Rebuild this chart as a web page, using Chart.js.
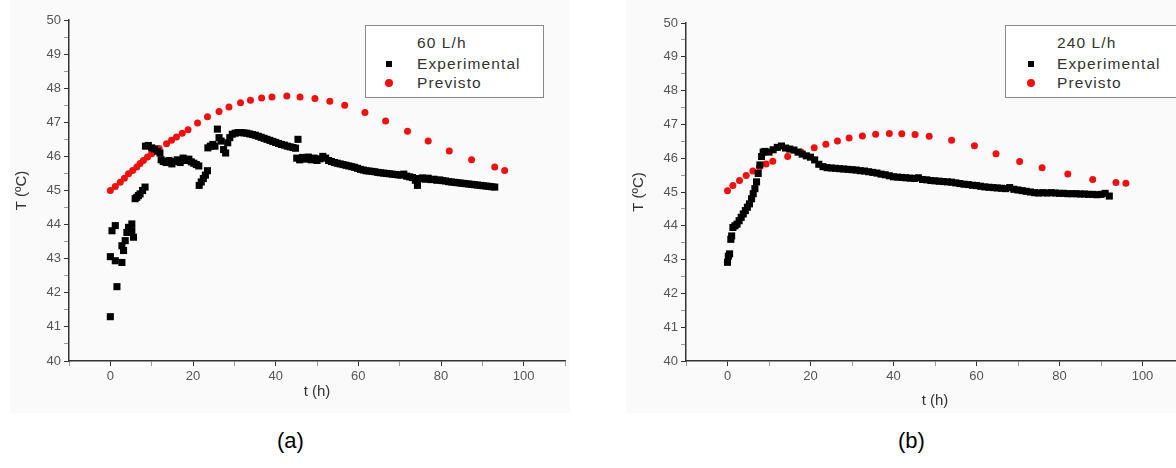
<!DOCTYPE html>
<html>
<head>
<meta charset="utf-8">
<script src="https://cdn.jsdelivr.net/npm/chart.js@4.4.0/dist/chart.umd.min.js"></script>
<style>
  body { margin: 0; width: 1176px; height: 468px; overflow: hidden; background: #fff; position: relative;
         font-family: "Liberation Sans", Arial, sans-serif; }
  .panel { position: absolute; top: 0; height: 413px; background: #fafafa; }
  .chart { position: absolute; top: 0; }
  .legend { position: absolute; top: 25px; height: 71px; border: 1px solid #888; background: #fff;
            font-size: 15.5px; letter-spacing: 1.1px; color: #333; }
  .legend span { position: absolute; line-height: 18px; white-space: nowrap; }
  .mk { position: absolute; }
  .sq { width: 6px; height: 6px; background: #000; }
  .dot { width: 8px; height: 8px; border-radius: 50%; background: #f01010; }
  .cap { position: absolute; top: 428px; font-size: 22px; color: #000; }
</style>
</head>
<body>
<div class="panel" style="left:10px; width:560px"></div>
<div class="panel" style="left:626px; width:550px"></div>

<canvas id="chartA" class="chart" width="600" height="420" style="left:0px"></canvas>
<canvas id="chartB" class="chart" width="602" height="420" style="left:617px"></canvas>

<div class="legend" style="left:365px; width:177px">
  <span style="left:51px; top:8px">60 L/h</span>
  <div class="mk sq" style="left:20px; top:35px"></div><span style="left:51px; top:29px">Experimental</span>
  <div class="mk dot" style="left:19px; top:53px"></div><span style="left:51px; top:48px">Previsto</span>
</div>
<div class="legend" style="left:1005px; width:200px">
  <span style="left:51px; top:8px">240 L/h</span>
  <div class="mk sq" style="left:22px; top:35px"></div><span style="left:51px; top:29px">Experimental</span>
  <div class="mk dot" style="left:21px; top:53px"></div><span style="left:51px; top:48px">Previsto</span>
</div>

<div class="cap" style="left:277px">(a)</div>
<div class="cap" style="left:898px">(b)</div>

<script>
// axis labels
const xLabels = [0, 20, 40, 60, 80, 100];
const yLabels = [40, 41, 42, 43, 44, 45, 46, 47, 48, 49, 50];

// (a) 60 L/h - experimental
const expTimeA = [
  0, 0, 0.4, 1.2, 1.2, 1.6, 2.8, 2.8, 3.2, 3.6, 4, 4.4, 5.2, 5.2, 5.6, 6, 6.4, 6.8, 7.2, 7.8, 8.4,
  8.5, 9.2, 10, 10.7, 11.4, 12, 12.3, 12.8, 13.5, 14.2, 14.9, 15.5, 16.2, 16.9, 17.6, 18.3, 19, 19.6, 20.2, 20.8, 21.4,
  21.5, 22, 22.5, 23, 23.5,
  23.6, 24.2, 24.8, 25.3, 25.9, 26.3, 26.8, 27.4, 27.9, 28.4, 28.9, 29.5, 30.2, 30.9, 31.6, 32.3, 33, 33.7, 34.4, 35.1,
  35.8, 36.5, 37.2, 37.9, 38.6, 39.3, 40, 40.7, 41.4, 42.1, 42.8, 43.5, 44.2, 44.8, 45.4,
  45.1, 45.8, 46.5, 47.2, 47.9, 48.6, 49.3, 50, 50.7, 51.4, 52.1, 52.8, 53.5, 54.2, 54.9, 55.6, 56.3, 57, 57.7, 58.4,
  59.1, 59.8, 60.5, 61.2, 61.9, 62.6, 63.3, 64, 64.7, 65.4, 66.1, 66.8, 67.5, 68.2, 68.9, 69.6, 70.3, 71, 71.7, 72.4,
  73.1, 73.8, 74.3, 74.8, 75.5, 76.2, 76.9, 77.6, 78.3, 79, 79.7, 80.4, 81.1, 81.8, 82.5, 83.2, 83.9, 84.6, 85.3, 86,
  86.7, 87.4, 88.1, 88.8, 89.5, 90.2, 90.9, 91.6, 92.3, 93
];
const expTempA = [
  41.3, 43.06, 43.82, 43.97, 42.94, 42.18, 42.89, 43.38, 43.24, 43.53, 43.77, 43.92, 44.02, 43.82, 43.63, 44.76, 44.8, 44.85, 44.9, 45.0, 45.1,
  46.3, 46.32, 46.25, 46.22, 46.15, 46.1, 45.9, 45.85, 45.82, 45.88, 45.78, 45.85, 45.9, 45.82, 45.95, 45.88, 45.92, 45.84, 45.8, 45.76, 45.72,
  45.15, 45.25, 45.35, 45.45, 45.58,
  46.25, 46.3, 46.35, 46.3, 46.8, 46.55, 46.45, 46.2, 46.1, 46.4, 46.55, 46.65, 46.68, 46.7, 46.7, 46.69, 46.68, 46.66, 46.64, 46.62,
  46.59, 46.56, 46.53, 46.5, 46.47, 46.44, 46.41, 46.38, 46.35, 46.33, 46.3, 46.28, 46.26, 46.24, 46.5,
  45.95, 45.9, 45.97, 45.92, 45.98, 45.9, 45.95, 45.88, 45.93, 46.0, 45.95, 45.88, 45.85, 45.82, 45.8, 45.78, 45.76, 45.74, 45.72, 45.7,
  45.68, 45.65, 45.62, 45.6, 45.58, 45.57, 45.56, 45.55, 45.53, 45.52, 45.51, 45.5, 45.49, 45.48, 45.47, 45.46, 45.45, 45.48, 45.42, 45.4,
  45.38, 45.3, 45.15, 45.35, 45.37, 45.33, 45.36, 45.32, 45.33, 45.3, 45.31, 45.29, 45.28, 45.26, 45.25, 45.24, 45.23, 45.22, 45.21, 45.2,
  45.19, 45.18, 45.17, 45.16, 45.15, 45.14, 45.13, 45.12, 45.11, 45.1
];

// (a) 60 L/h - predicted
const prevTimeA = [0, 1.2, 2.4, 3.4, 4.4, 5.4, 6.4, 7.2, 8.0, 9.0, 10.0, 11.8, 13.6, 14.8, 16.0, 17.4, 18.8, 21.1, 23.5, 26.3,
  28.7, 31.5, 33.9, 36.6, 39.1, 42.7, 45.9, 49.5, 53.1, 56.7, 61.6, 66.6, 71.9, 76.9, 82, 87.4, 93, 95.4];
const prevTempA = [45.0, 45.12, 45.24, 45.36, 45.49, 45.59, 45.69, 45.79, 45.88, 45.98, 46.08, 46.23, 46.37, 46.47, 46.57, 46.68, 46.78, 46.98, 47.16, 47.32,
  47.45, 47.57, 47.65, 47.71, 47.74, 47.77, 47.74, 47.7, 47.62, 47.5, 47.29, 47.04, 46.74, 46.45, 46.16, 45.9, 45.69, 45.59];

// (b) 240 L/h - experimental
const expTimeB = [
  0, 0.2, 0.5, 0.8, 1.0, 1.3, 1.8, 2.3, 2.8, 3.3, 3.8, 4.3, 4.8, 5.3, 5.8, 6.2, 6.6, 7.0, 7.4, 7.8, 8.2, 8.6,
  9, 10, 11, 12, 13, 14, 15, 16, 17, 18, 19, 20, 21, 22, 23, 24, 25, 26, 27, 28, 29, 30,
  31, 32, 33, 34, 35, 36, 37, 38, 39, 40, 41, 42, 43, 44, 45, 46, 47, 48, 49, 50,
  51, 52, 53, 54, 55, 56, 57, 58, 59, 60, 61, 62, 63, 64, 65, 66, 67, 68, 69, 70,
  71, 72, 73, 74, 75, 76, 77, 78, 79, 80, 81, 82, 83, 84, 85, 86, 87, 88, 89, 90, 91, 92
];
const expTempB = [
  42.92, 43.1, 43.17, 43.6, 43.7, 43.95, 44.0, 44.05, 44.15, 44.25, 44.35, 44.45, 44.55, 44.65, 44.8, 44.95, 45.1, 45.3, 45.55, 45.8, 46.05, 46.18,
  46.2, 46.18, 46.25, 46.32, 46.36, 46.3, 46.27, 46.24, 46.18, 46.12, 46.07, 46.03, 45.95, 45.82, 45.75, 45.72, 45.71, 45.7, 45.69, 45.68, 45.67, 45.66,
  45.65, 45.63, 45.62, 45.6, 45.58, 45.56, 45.53, 45.51, 45.48, 45.45, 45.44, 45.43, 45.42, 45.41, 45.4, 45.42, 45.37, 45.36, 45.34, 45.33,
  45.32, 45.31, 45.3, 45.29, 45.27, 45.25, 45.23, 45.22, 45.2, 45.19, 45.17, 45.15, 45.14, 45.13, 45.12, 45.11, 45.1, 45.13, 45.08, 45.06,
  45.04, 45.02, 45.0, 44.98, 44.97, 44.98, 44.97, 44.98, 44.97, 44.96, 44.96, 44.95, 44.95, 44.95, 44.94, 44.94, 44.93, 44.93, 44.92, 44.93, 44.96, 44.88
];

// (b) 240 L/h - predicted
const prevTimeB = [0, 1.3, 2.9, 4.5, 6.1, 7.7, 9.3, 10.9, 14.5, 17.7, 20.9, 23.7, 26.5, 29.3, 32.5, 35.7, 39, 42, 45.2, 48.6,
  54, 59.5, 64.7, 70.4, 75.8, 82, 88, 93.6, 96];
const prevTempB = [45.04, 45.19, 45.34, 45.49, 45.62, 45.74, 45.83, 45.91, 46.05, 46.18, 46.31, 46.41, 46.51, 46.6, 46.66, 46.71, 46.73, 46.72, 46.7, 46.65,
  46.53, 46.37, 46.13, 45.9, 45.72, 45.53, 45.37, 45.28, 45.26];

const FONT = '"Liberation Sans", Arial, sans-serif';

function toPoints(xs, ys) {
  return xs.map((x, i) => ({ x: x, y: ys[i] }));
}

function makeChart(id, expT, expY, prevT, prevY, topPad, xTitlePad) {
  return new Chart(document.getElementById(id), {
    type: 'scatter',
    data: {
      datasets: [
        { label: 'Experimental', data: toPoints(expT, expY), pointStyle: 'rect', pointRadius: 5,
          backgroundColor: '#000', borderColor: '#000', borderWidth: 0 },
        { label: 'Previsto', data: toPoints(prevT, prevY), pointStyle: 'circle', pointRadius: 3.5,
          backgroundColor: '#f01010', borderColor: '#f01010', borderWidth: 0 }
      ]
    },
    options: {
      responsive: false,
      animation: false,
      devicePixelRatio: 1,
      layout: { padding: { top: topPad, right: 35, left: 0, bottom: 0 } },
      plugins: { legend: { display: false }, tooltip: { enabled: false } },
      scales: {
        x: {
          type: 'linear', min: -10, max: 110,
          afterFit: s => { s.height = 59; },
          ticks: { stepSize: 10, autoSkip: false, maxRotation: 0, padding: 3, color: '#555', font: { family: FONT, size: 13 },
                   callback: v => xLabels.includes(v) ? v : '' },
          grid: { drawOnChartArea: false, tickLength: 5, tickColor: c => xLabels.includes(c.tick.value) ? '#333' : '#999' },
          border: { color: '#333', width: 1.5 },
          title: { display: true, text: 't (h)', color: '#333', font: { family: FONT, size: 15 },
                   padding: { top: 0, bottom: xTitlePad } }
        },
        y: {
          min: 40, max: 50,
          afterFit: s => { s.width = 69; },
          ticks: { stepSize: 0.5, autoSkip: false, padding: 3, color: '#555', font: { family: FONT, size: 13 },
                   callback: v => yLabels.includes(v) ? v : '' },
          grid: { drawOnChartArea: false, tickLength: 5, tickColor: c => yLabels.includes(c.tick.value) ? '#333' : '#999' },
          border: { color: '#333', width: 1.5 },
          title: { display: true, text: 'T (ºC)', color: '#333', font: { family: FONT, size: 15 },
                   padding: { top: 13, bottom: 0 } }
        }
      }
    }
  });
}

makeChart('chartA', expTimeA, expTempA, prevTimeA, prevTempA, 20, 19);
makeChart('chartB', expTimeB, expTempB, prevTimeB, prevTempB, 23, 10);
</script>
</body>
</html>
